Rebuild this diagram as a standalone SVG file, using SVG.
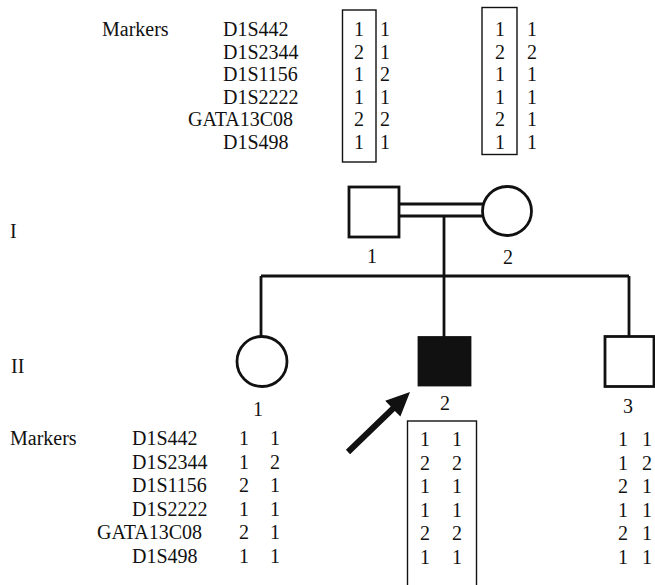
<svg xmlns="http://www.w3.org/2000/svg" width="655" height="585" viewBox="0 0 655 585">
<style>
text{font-family:"Liberation Serif","Times New Roman",serif;font-size:20px;fill:#111}
.c{text-anchor:middle}
.sym{fill:#fff;stroke:#111;stroke-width:2.8}
.aff{fill:#111;stroke:#111;stroke-width:2.8}
.ln{stroke:#111;stroke-width:2.8;fill:none}
.box{fill:none;stroke:#111;stroke-width:1.4}
</style>
<rect width="655" height="585" fill="#fff"/>
<g id="connectors">
<line class="ln" x1="399" y1="204" x2="483" y2="204"/>
<line class="ln" x1="399" y1="216" x2="483" y2="216"/>
<line class="ln" x1="444" y1="216" x2="444" y2="337"/>
<line class="ln" x1="261" y1="276" x2="629" y2="276"/>
<line class="ln" x1="261" y1="276" x2="261" y2="337"/>
<line class="ln" x1="629" y1="276" x2="629" y2="336"/>
</g>
<g id="top-markers">
<text x="102" y="36">Markers</text>
<text x="223" y="36">D1S442</text>
<text x="223" y="58.5">D1S2344</text>
<text x="223" y="81">D1S1156</text>
<text x="223" y="103.5">D1S2222</text>
<text x="188" y="126">GATA13C08</text>
<text x="223" y="148.5">D1S498</text>
</g>
<g id="gen-labels">
<text x="10" y="238">I</text>
<text x="11" y="373">II</text>
</g>
<g id="I-1">
<rect class="sym" x="349" y="187" width="50" height="50"/>
<text class="c" x="372" y="263">1</text>
<rect class="box" x="342.5" y="10" width="33.5" height="152"/>
<g class="c">
<text x="359" y="36">1</text><text x="385" y="36">1</text>
<text x="359" y="58.5">2</text><text x="385" y="58.5">1</text>
<text x="359" y="81">1</text><text x="385" y="81">2</text>
<text x="359" y="103.5">1</text><text x="385" y="103.5">1</text>
<text x="359" y="126">2</text><text x="385" y="126">2</text>
<text x="359" y="148.5">1</text><text x="385" y="148.5">1</text>
</g>
</g>
<g id="I-2">
<circle class="sym" cx="507" cy="211" r="24.5"/>
<text class="c" x="508" y="264">2</text>
<rect class="box" x="482" y="7.5" width="35" height="147"/>
<g class="c">
<text x="500" y="36">1</text><text x="532" y="36">1</text>
<text x="500" y="58.5">2</text><text x="532" y="58.5">2</text>
<text x="500" y="81">1</text><text x="532" y="81">1</text>
<text x="500" y="103.5">1</text><text x="532" y="103.5">1</text>
<text x="500" y="126">2</text><text x="532" y="126">1</text>
<text x="500" y="148.5">1</text><text x="532" y="148.5">1</text>
</g>
</g>
<g id="bottom-markers">
<text x="10" y="445">Markers</text>
<text x="132" y="445">D1S442</text>
<text x="132" y="468.5">D1S2344</text>
<text x="132" y="492">D1S1156</text>
<text x="132" y="515.5">D1S2222</text>
<text x="97" y="539">GATA13C08</text>
<text x="132" y="562.5">D1S498</text>
</g>
<g id="II-1">
<circle class="sym" cx="262" cy="361.5" r="25"/>
<text class="c" x="258" y="416">1</text>
<g class="c">
<text x="244" y="445">1</text><text x="275" y="445">1</text>
<text x="244" y="468.5">1</text><text x="275" y="468.5">2</text>
<text x="244" y="492">2</text><text x="275" y="492">1</text>
<text x="244" y="515.5">1</text><text x="275" y="515.5">1</text>
<text x="244" y="539">2</text><text x="275" y="539">1</text>
<text x="244" y="562.5">1</text><text x="275" y="562.5">1</text>
</g>
</g>
<g id="II-2">
<rect class="aff" x="419" y="337.5" width="51" height="47.5"/>
<text class="c" x="445" y="410">2</text>
<rect class="box" x="407.5" y="421" width="69" height="170"/>
<g class="c">
<text x="425" y="446">1</text><text x="457" y="446">1</text>
<text x="425" y="469.5">2</text><text x="457" y="469.5">2</text>
<text x="425" y="493">1</text><text x="457" y="493">1</text>
<text x="425" y="516.5">1</text><text x="457" y="516.5">1</text>
<text x="425" y="540">2</text><text x="457" y="540">2</text>
<text x="425" y="563.5">1</text><text x="457" y="563.5">1</text>
</g>
<polygon id="arrow" fill="#111" points="345.9,449.8 390.7,406.5 385.2,400.8 410,392 400.4,416.6 394.9,410.9 350.1,454.2"/>
</g>
<g id="II-3">
<rect class="sym" x="605" y="336.5" width="49" height="50"/>
<text class="c" x="628" y="413">3</text>
<g class="c">
<text x="623" y="446">1</text><text x="647" y="446">1</text>
<text x="623" y="469.5">1</text><text x="647" y="469.5">2</text>
<text x="623" y="493">2</text><text x="647" y="493">1</text>
<text x="623" y="516.5">1</text><text x="647" y="516.5">1</text>
<text x="623" y="540">2</text><text x="647" y="540">1</text>
<text x="623" y="563.5">1</text><text x="647" y="563.5">1</text>
</g>
</g>
</svg>
